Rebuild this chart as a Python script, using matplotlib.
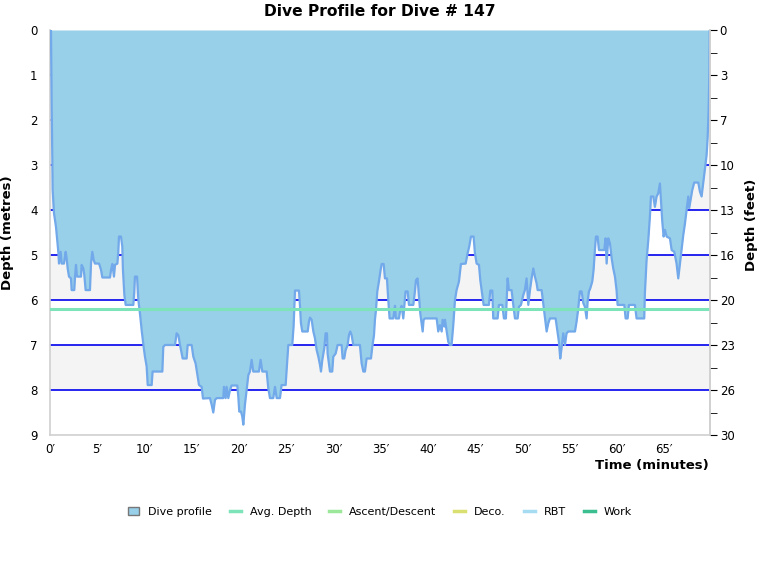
import matplotlib
matplotlib.use("Agg")
import matplotlib.pyplot as plt
from matplotlib.lines import Line2D
from matplotlib.patches import Patch
import numpy as np

plt.rcParams['font.family'] = ['DejaVu Sans']

title = "Dive Profile for Dive # 147"
time_min = [0.00, 0.10, 0.18, 0.28, 0.42, 0.63, 0.77, 0.88, 0.95, 1.13, 1.23, 1.48, 1.66, 1.76, 1.87, 2.01, 2.22, 2.29, 2.57, 2.65,
            2.75, 2.86, 3.28, 3.35, 3.53, 3.63, 3.77, 4.23, 4.34, 4.48, 4.62, 4.76, 5.19, 5.40, 5.54, 6.35, 6.46, 6.60, 6.77, 6.88,
            7.13, 7.23, 7.30, 7.51, 7.65, 7.72, 7.87, 8.01, 8.82, 8.92, 8.99, 9.21, 9.35, 9.52, 9.70, 9.91, 10.05, 10.23, 10.34, 10.76,
            10.86, 11.89, 11.99, 12.17, 13.23, 13.40, 13.58, 13.76, 13.93, 14.04, 14.46, 14.57, 14.99, 15.17, 15.41, 15.63, 15.77, 16.05, 16.19,
            16.93, 17.11, 17.28, 17.46, 17.64, 18.34, 18.41, 18.59, 18.69, 18.87, 19.05, 19.22, 19.82, 19.93, 20.03, 20.21, 20.35, 20.46, 20.63,
            20.81, 20.99, 21.16, 21.34, 21.51, 22.11, 22.29, 22.47, 22.93, 23.10, 23.28, 23.63, 23.81, 23.99, 24.34, 24.51, 24.94, 25.04, 25.22,
            25.64, 25.78, 25.93, 26.35, 26.46, 26.56, 26.70, 27.27, 27.41, 27.51, 27.69, 27.87, 28.04, 28.22, 28.40, 28.57, 28.68, 28.82, 29.03,
            29.17, 29.31, 29.38, 29.52, 29.63, 29.87, 29.98, 30.23, 30.44, 30.86, 30.97, 31.14, 31.29, 31.50, 31.64, 31.78, 31.92, 32.10, 32.80,
            32.98, 33.16, 33.33, 33.51, 33.97, 34.11, 34.29, 34.39, 34.50, 34.64, 34.81, 34.99, 35.10, 35.31, 35.45, 35.66, 35.80, 35.94, 36.33,
            36.51, 36.61, 36.93, 37.07, 37.21, 37.39, 37.49, 37.63, 37.85, 37.99, 38.45, 38.62, 38.73, 38.90, 39.05, 39.19, 39.33, 39.44, 39.54,
            39.68, 40.92, 41.09, 41.27, 41.45, 41.55, 41.73, 41.80, 41.98, 42.15, 42.33, 42.50, 42.68, 42.86, 43.03, 43.28, 43.49, 43.99, 44.20,
            44.37, 44.55, 44.83, 44.97, 45.15, 45.40, 45.54, 45.68, 45.78, 45.89, 46.45, 46.60, 46.81, 46.91, 47.37, 47.51, 47.87, 48.04, 48.25,
            48.43, 48.57, 48.85, 49.03, 49.21, 49.49, 49.63, 49.84, 50.09, 50.26, 50.44, 50.62, 50.79, 50.97, 51.15, 51.32, 51.50, 51.61, 52.03,
            52.20, 52.38, 52.56, 52.73, 52.91, 53.51, 53.68, 53.86, 54.00, 54.14, 54.32, 54.50, 54.67, 54.85, 55.56, 55.73, 55.91, 56.08, 56.26,
            56.44, 56.61, 56.79, 56.90, 57.04, 57.18, 57.39, 57.53, 57.67, 57.78, 57.95, 58.10, 58.66, 58.80, 58.91, 59.08, 59.26, 59.44, 59.61,
            59.79, 59.96, 60.07, 60.78, 60.92, 61.13, 61.27, 61.90, 62.08, 62.89, 62.96, 63.14, 63.32, 63.49, 63.60, 63.85, 64.02, 64.20, 64.37,
            64.55, 64.66, 64.80, 64.94, 65.08, 65.26, 65.61, 65.79, 66.07, 66.31, 66.49, 66.67, 66.84, 67.02, 67.20, 67.37, 67.55, 67.65, 67.83,
            67.97, 68.18, 68.61, 68.78, 68.96, 69.14, 69.31, 69.49, 69.60, 69.70, 69.78, 69.82]
depth_m = [0.00, 0.00, 1.70, 3.55, 4.07, 4.37, 4.67, 4.93, 5.19, 4.93, 5.19, 5.19, 4.93, 5.07, 5.30, 5.48, 5.52, 5.78, 5.78, 5.48,
           5.22, 5.48, 5.48, 5.22, 5.30, 5.44, 5.78, 5.78, 5.19, 4.93, 5.11, 5.19, 5.19, 5.33, 5.50, 5.50, 5.33, 5.20, 5.48, 5.22,
           5.19, 4.93, 4.59, 4.59, 4.81, 5.33, 5.89, 6.11, 6.11, 5.81, 5.48, 5.48, 6.00, 6.30, 6.67, 7.04, 7.26, 7.48, 7.89, 7.89,
           7.59, 7.59, 7.04, 7.00, 7.00, 6.74, 6.78, 7.00, 7.19, 7.30, 7.30, 7.00, 7.00, 7.26, 7.41, 7.70, 7.89, 7.93, 8.19,
           8.18, 8.33, 8.50, 8.22, 8.18, 8.18, 7.93, 8.18, 7.93, 8.18, 8.00, 7.90, 7.90, 8.15, 8.48, 8.48, 8.59, 8.77, 8.33,
           8.00, 7.67, 7.59, 7.33, 7.59, 7.59, 7.33, 7.59, 7.59, 7.96, 8.18, 8.18, 7.93, 8.18, 8.18, 7.89, 7.89, 7.56, 7.00,
           7.00, 6.59, 5.79, 5.79, 6.15, 6.52, 6.70, 6.70, 6.48, 6.39, 6.44, 6.70, 6.85, 7.11, 7.26, 7.44, 7.59, 7.33, 7.07,
           6.74, 6.74, 7.19, 7.41, 7.59, 7.59, 7.26, 7.19, 7.00, 7.00, 7.30, 7.30, 7.11, 7.00, 6.78, 6.70, 6.78, 7.00, 7.00,
           7.41, 7.59, 7.59, 7.30, 7.30, 7.04, 6.78, 6.44, 6.22, 5.81, 5.59, 5.33, 5.20, 5.20, 5.52, 5.52, 6.00, 6.41, 6.41,
           6.13, 6.41, 6.41, 6.21, 6.13, 6.41, 6.15, 5.81, 5.81, 6.11, 6.11, 5.81, 5.56, 5.52, 5.93, 6.30, 6.52, 6.70, 6.44,
           6.41, 6.41, 6.70, 6.56, 6.70, 6.44, 6.59, 6.44, 6.70, 6.93, 7.00, 7.00, 6.56, 6.00, 5.78, 5.59, 5.20, 5.19, 4.96,
           4.81, 4.59, 4.59, 4.96, 5.19, 5.22, 5.56, 5.78, 5.93, 6.11, 6.11, 5.79, 5.79, 6.41, 6.41, 6.11, 6.11, 6.41, 6.41,
           5.52, 5.78, 5.78, 6.11, 6.41, 6.41, 6.15, 6.11, 5.89, 5.78, 5.52, 6.11, 5.79, 5.52, 5.30, 5.48, 5.63, 5.78, 5.78,
           6.07, 6.37, 6.70, 6.52, 6.41, 6.41, 6.67, 6.93, 7.30, 7.07, 6.74, 7.00, 6.74, 6.70, 6.70, 6.48, 6.19, 5.81, 5.81,
           6.07, 6.15, 6.41, 6.04, 5.81, 5.74, 5.59, 5.33, 4.89, 4.59, 4.59, 4.89, 4.89, 4.63, 5.19, 4.63, 4.74, 5.07, 5.30,
           5.48, 5.78, 6.11, 6.11, 6.41, 6.41, 6.11, 6.11, 6.41, 6.41, 5.85, 5.11, 4.67, 4.15, 3.70, 3.70, 3.93, 3.70, 3.63,
           3.41, 3.78, 4.26, 4.59, 4.44, 4.59, 4.63, 4.89, 4.93, 5.19, 5.52, 5.19, 4.89, 4.56, 4.30, 4.00, 3.70, 3.96, 3.74,
           3.56, 3.39, 3.39, 3.59, 3.70, 3.39, 3.11, 2.78, 2.40, 1.80, 1.00, 0.00]
avg_depth = 6.19
duration = 69.85
max_depth_axis = 9
x_ticks = [0, 5, 10, 15, 20, 25, 30, 35, 40, 45, 50, 55, 60, 65]
m_ticks = [0, 1, 2, 3, 4, 5, 6, 7, 8, 9]
ft_labels = ["0", "3", "7", "10", "13", "16", "20", "23", "26", "30"]
legend_labels = ["Dive profile", "Avg. Depth", "Ascent/Descent", "Deco.", "RBT", "Work"]
legend_colors = ["#98cfe9", "#7de3b8", "#9be89a", "#d9e070", "#a6dcf2", "#3bbf90"]

fig = plt.figure(figsize=(7.6, 5.8), dpi=100)
ax = fig.add_axes([50/760, 145/580, 660/760, 405/580])

# alternating bands
for k in range(1, max_depth_axis, 2):
    ax.axhspan(k, k + 1, color="#f4f4f4", zorder=0, lw=0)
for k in range(1, max_depth_axis):
    ax.axhline(k, color="#0000ee", lw=1.2, zorder=1)

ax.fill_between(time_min, 0, depth_m, color="#98cfe9", zorder=2, lw=0)
ax.plot(time_min, depth_m, color="#72a9ea", lw=1.6, zorder=3)
ax.axhline(avg_depth, color="#7de3b8", lw=2.2, zorder=4)

ax.set_xlim(0, duration)
ax.set_ylim(max_depth_axis, 0)
ax.set_xticks(x_ticks)
ax.set_xticklabels([f"{v}\u2032" for v in x_ticks], fontsize=8.5)
ax.set_yticks(m_ticks)
ax.set_yticklabels([str(v) for v in m_ticks], fontsize=8.5)
ax.tick_params(axis="both", length=0)
ax.tick_params(axis="y", pad=9)
ax.tick_params(axis="x", pad=6)
for s in ax.spines.values():
    s.set_color("#d0d0d0")
    s.set_linewidth(1.2)
ax.spines["top"].set_visible(False)

ax2 = ax.twinx()
ax2.set_ylim(max_depth_axis, 0)
ax2.set_yticks(m_ticks)
ax2.set_yticklabels(ft_labels, fontsize=8.5)
ax2.set_yticks(np.arange(0.5, max_depth_axis, 1.0), minor=True)
ax2.tick_params(axis="y", which="major", length=5, color="black", pad=2)
ax2.tick_params(axis="y", which="minor", length=5, color="black")
for s in ax2.spines.values():
    s.set_visible(False)
ax2.spines["right"].set_visible(True)
ax2.spines["right"].set_color("#d0d0d0")
ax2.spines["right"].set_linewidth(1.2)

fig.text(0.5, 1 - 12/580, title, ha="center", va="center", fontsize=11.2, fontweight="bold")
fig.text(8/760, 1 - 233/580, "Depth (metres)", rotation=90, ha="center", va="center", fontsize=9.5, fontweight="bold")
fig.text(752/760, 1 - 225/580, "Depth (feet)", rotation=90, ha="center", va="center", fontsize=9.5, fontweight="bold")
fig.text(709/760, 1 - 466/580, "Time (minutes)", ha="right", va="center", fontsize=9.5, fontweight="bold")

handles = [Patch(facecolor=legend_colors[0], edgecolor="#777777", lw=1)]
for c in legend_colors[1:]:
    handles.append(Line2D([0], [0], color=c, lw=2.5))
fig.legend(handles, legend_labels, loc="center", bbox_to_anchor=(0.5, 1 - 512/580), ncol=6,
           frameon=False, fontsize=8, handlelength=1.0, handleheight=0.8, columnspacing=1.6, handletextpad=0.8)

fig.savefig("out.png", dpi=100)
